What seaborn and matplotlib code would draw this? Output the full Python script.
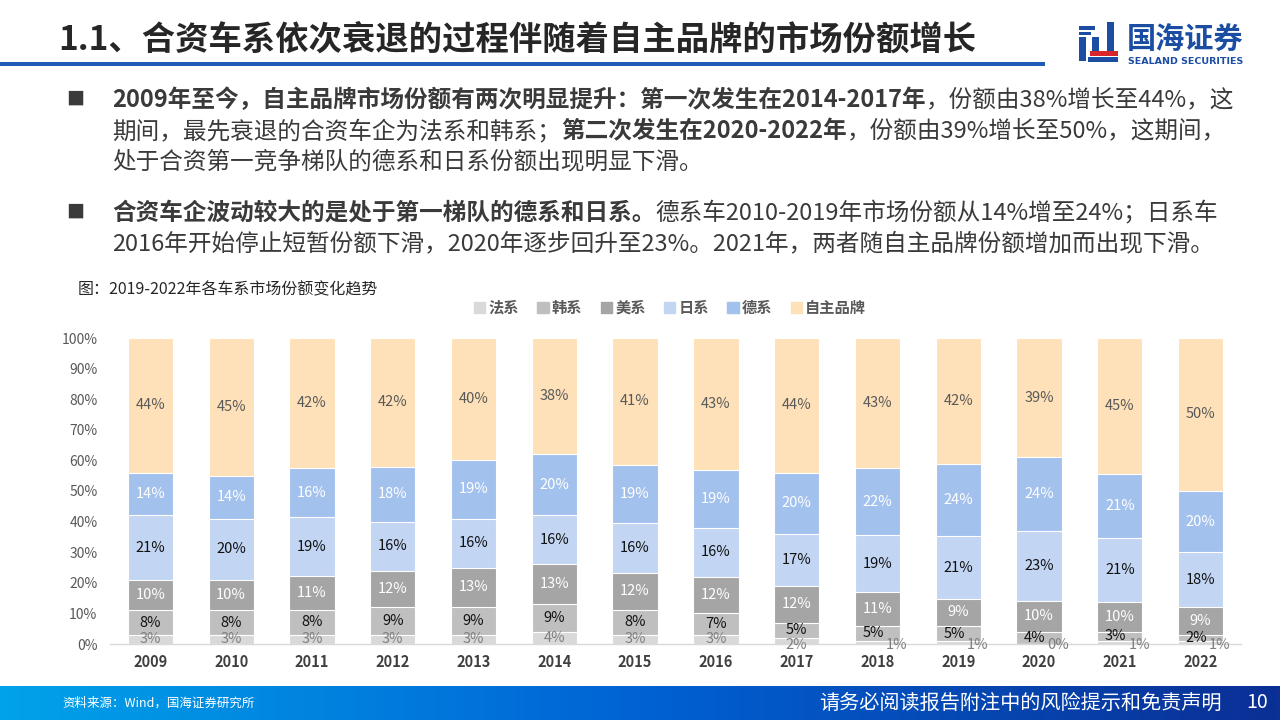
import numpy as np
import pandas as pd
import matplotlib
matplotlib.use("Agg")
import matplotlib.pyplot as plt
import seaborn as sns
from matplotlib.colors import LinearSegmentedColormap
from matplotlib.patches import Rectangle

# ---- data ----
years = ["2009", "2010", "2011", "2012", "2013", "2014", "2015",
         "2016", "2017", "2018", "2019", "2020", "2021", "2022"]
series = ["法系", "韩系", "美系", "日系", "德系", "自主品牌"]
fa_xi = [3, 3, 3, 3, 3, 4, 3, 3, 2, 1, 1, 0, 1, 1]
han_xi = [8, 8, 8, 9, 9, 9, 8, 7, 5, 5, 5, 4, 3, 2]
mei_xi = [10, 10, 11, 12, 13, 13, 12, 12, 12, 11, 9, 10, 10, 9]
ri_xi = [21, 20, 19, 16, 16, 16, 16, 16, 17, 19, 21, 23, 21, 18]
de_xi = [14, 14, 16, 18, 19, 20, 19, 19, 20, 22, 24, 24, 21, 20]
zizhu = [44, 45, 42, 42, 40, 38, 41, 43, 44, 43, 42, 39, 45, 50]

colors = ["#d9d9d9", "#bfbfbf", "#a5a5a5", "#c2d5f3", "#a3c1ed", "#fee1b8"]
label_colors = ["#7f7f7f", "#111111", "#ffffff", "#111111", "#ffffff", "#595959"]

df = pd.DataFrame(dict(zip(series, [fa_xi, han_xi, mei_xi, ri_xi, de_xi, zizhu])), index=years)
# 100% stacked: normalise each year so the bar reaches 100%
share = df.div(df.sum(axis=1), axis=0) * 100
cum = share.cumsum(axis=1)

sns.set_theme(style="white")
plt.rcParams["font.family"] = ["Noto Sans CJK SC", "DejaVu Sans"]

W, H = 1280, 720
fig = plt.figure(figsize=(12.8, 7.2), dpi=100)
fig.patch.set_facecolor("white")


def fx(px):
    return px / W


def fy(py):
    return 1 - py / H


# ---- header ----
fig.text(fx(58), fy(40), "1.1、合资车系依次衰退的过程伴随着自主品牌的市场份额增长",
         fontsize=24, fontweight="bold", color="#262626", va="center", ha="left")
fig.add_artist(Rectangle((0, fy(66)), fx(1045), 4 / H, color="#1f5cb8",
                         transform=fig.transFigure, lw=0))

# logo
logo_blue = "#1b4ea3"
for (x0, y0, w, h) in [(1079, 26, 16, 4), (1079, 32, 12, 3), (1079, 37, 7, 24),
                       (1092, 37, 7, 14), (1107, 22, 7, 29), (1088, 57, 30, 5)]:
    fig.add_artist(Rectangle((fx(x0), fy(y0 + h)), w / W, h / H, color=logo_blue,
                             transform=fig.transFigure, lw=0))
fig.add_artist(Rectangle((fx(1090), fy(56)), 28 / W, 5 / H, color="#d9262c",
                         transform=fig.transFigure, lw=0))
fig.text(fx(1127), fy(40), "国海证券", fontsize=21, fontweight="bold",
         color=logo_blue, va="center", ha="left")
fig.text(fx(1128), fy(62), "SEALAND SECURITIES", fontsize=6.8, fontweight="bold",
         color=logo_blue, va="center", ha="left", family=["DejaVu Sans"])

# ---- body text with mixed bold runs ----
renderer = fig.canvas.get_renderer()
body_color = "#3a3a3a"


def draw_runs(x_px, y_px, runs, size=17):
    x = fx(x_px)
    for s, bold in runs:
        t = fig.text(x, fy(y_px), s, fontsize=size, fontweight="bold" if bold else "normal",
                     color=body_color, va="center", ha="left")
        x += t.get_window_extent(renderer=renderer).width / fig.bbox.width


for yb in (100, 213):
    fig.text(fx(66), fy(yb), "■", fontsize=13, color="#3a3a3a", va="center", ha="left")

draw_runs(112, 100, [("2009年至今，自主品牌市场份额有两次明显提升：第一次发生在2014-2017年", True),
                     ("，份额由38%增长至44%，这", False)])
draw_runs(112, 131, [("期间，最先衰退的合资车企为法系和韩系；", False),
                     ("第二次发生在2020-2022年", True),
                     ("，份额由39%增长至50%，这期间，", False)])
draw_runs(112, 162, [("处于合资第一竞争梯队的德系和日系份额出现明显下滑。", False)])
draw_runs(112, 213, [("合资车企波动较大的是处于第一梯队的德系和日系。", True),
                     ("德系车2010-2019年市场份额从14%增至24%；日系车", False)])
draw_runs(112, 244, [("2016年开始停止短暂份额下滑，2020年逐步回升至23%。2021年，两者随自主品牌份额增加而出现下滑。", False)])

fig.text(fx(78), fy(290), "图：2019-2022年各车系市场份额变化趋势", fontsize=11.5,
         color="#262626", va="center", ha="left")

# ---- chart ----
ax = fig.add_axes([fx(110), (H - 644) / H, 1131 / W, 306 / H])
for i in range(len(series) - 1, -1, -1):
    sns.barplot(x=years, y=cum[series[i]].values, color=colors[i], saturation=1,
                width=0.56, edgecolor="white", linewidth=0.8, ax=ax)

for i, s in enumerate(series):
    bottoms = cum[s].values - share[s].values
    for j, yr in enumerate(years):
        xpos = j
        ypos = bottoms[j] + share[s].values[j] / 2
        if j >= 9 and s == "法系":
            xpos, ypos = j + 0.24, -0.3
        elif j >= 9 and s == "韩系":
            xpos = j - 0.05
        elif j == 8 and s == "法系":
            ypos = -0.2
        ax.text(xpos, ypos, f"{df.loc[yr, s]}%", fontsize=10.5, color=label_colors[i],
                ha="center", va="center")

ax.set_xlim(-0.5, 13.5)
ax.set_ylim(0, 100)
ax.set_yticks(np.arange(0, 101, 10))
ax.set_yticklabels([f"{v}%" for v in range(0, 101, 10)])
ax.tick_params(axis="y", length=0, pad=9, labelsize=10, labelcolor="#595959")
ax.tick_params(axis="x", length=0, pad=7, labelsize=10.5, labelcolor="#404040")
for lab in ax.get_xticklabels():
    lab.set_fontweight("bold")
ax.set_xlabel("")
ax.set_ylabel("")
for sp in ["top", "right", "left"]:
    ax.spines[sp].set_visible(False)
ax.spines["bottom"].set_color("#d9d9d9")
ax.spines["bottom"].set_linewidth(1)
ax.grid(False)
if ax.get_legend() is not None:
    ax.get_legend().remove()

handles = [Rectangle((0, 0), 1, 1, color=c) for c in colors]
leg = fig.legend(handles, series, loc="center", bbox_to_anchor=(fx(670), fy(308)),
                 ncol=6, frameon=False, handlelength=0.75, handleheight=0.75,
                 handletextpad=0.2, columnspacing=1.2, fontsize=11)
for t in leg.get_texts():
    t.set_fontweight("bold")
    t.set_color("#595959")

# ---- footer ----
fax = fig.add_axes([0, 0, 1, 34 / H])
cmap = LinearSegmentedColormap.from_list("foot", ["#00a3ea", "#0062d4", "#0b2f94"])
fax.imshow(np.linspace(0, 1, 256)[None, :], aspect="auto", cmap=cmap, extent=[0, 1, 0, 1])
fax.set_axis_off()
fig.text(fx(62), fy(703), "资料来源：Wind，国海证券研究所", fontsize=9, color="white",
         va="center", ha="left")
fig.text(fx(1222), fy(703), "请务必阅读报告附注中的风险提示和免责声明", fontsize=14.5,
         color="white", va="center", ha="right")
fig.text(fx(1268), fy(703), "10", fontsize=14, color="white", va="center", ha="right")

fig.savefig("out.png", dpi=100)
